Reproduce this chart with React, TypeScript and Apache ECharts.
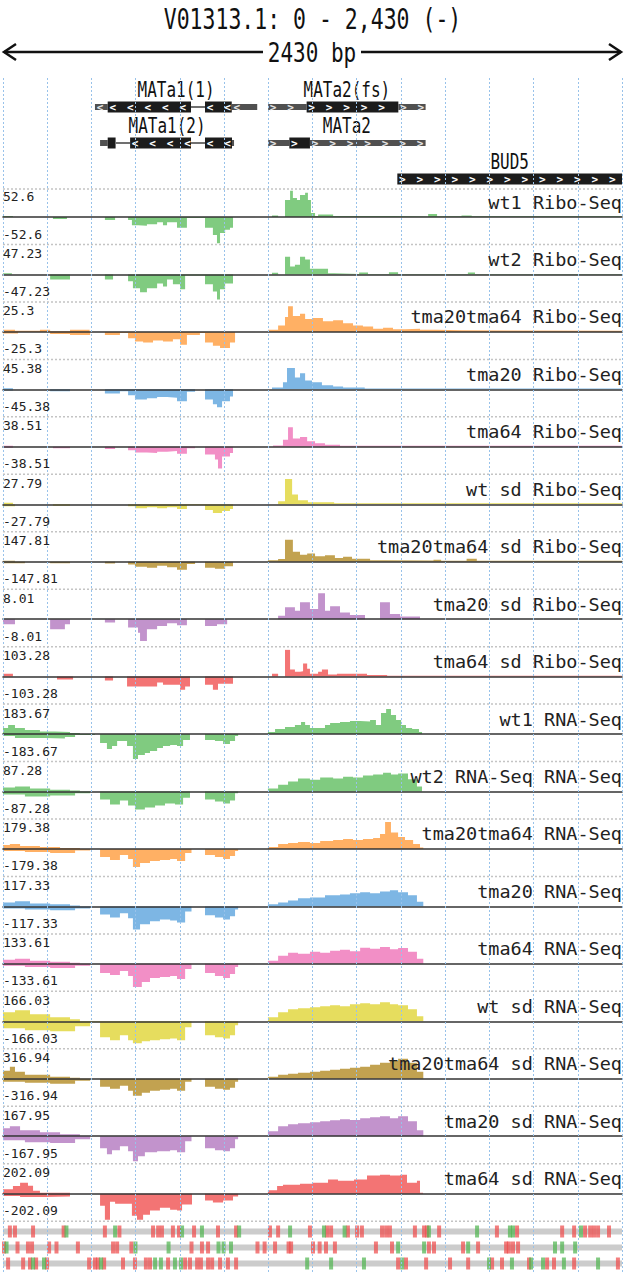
import { useEffect, useRef } from "react";
import * as echarts from "echarts";

const FONT = '"DejaVu Sans Mono", "Liberation Mono", monospace';
const GENOME_START = 0;
const GENOME_END = 2430;

const trackNames = [
  "wt1 Ribo-Seq", "wt2 Ribo-Seq", "tma20tma64 Ribo-Seq", "tma20 Ribo-Seq", "tma64 Ribo-Seq",
  "wt sd Ribo-Seq", "tma20tma64 sd Ribo-Seq", "tma20 sd Ribo-Seq", "tma64 sd Ribo-Seq",
  "wt1 RNA-Seq", "wt2 RNA-Seq RNA-Seq", "tma20tma64 RNA-Seq", "tma20 RNA-Seq", "tma64 RNA-Seq",
  "wt sd RNA-Seq", "tma20tma64 sd RNA-Seq", "tma20 sd RNA-Seq", "tma64 sd RNA-Seq",
];
const trackMax = [52.6, 47.23, 25.3, 45.38, 38.51, 27.79, 147.81, 8.01, 103.28, 183.67, 87.28, 179.38, 117.33, 133.61, 166.03, 316.94, 167.95, 202.09];
const GREEN = "#80cb80", ORANGE = "#ffb064", BLUE = "#7db6e4", PINK = "#f28fc6", YELLOW = "#e6dd5e", OLIVE = "#c2a250", PURPLE = "#c293cc", RED = "#f37474";
const trackColors = [GREEN, GREEN, ORANGE, BLUE, PINK, YELLOW, OLIVE, PURPLE, RED, GREEN, GREEN, ORANGE, BLUE, PINK, YELLOW, OLIVE, PURPLE, RED];

// coverage: [position (bp), value] breakpoints, value holds until next breakpoint
const wt1RiboPos = [[0,2],[39,0],[1056,3],[1080,0],[1107,33],[1127,51],[1138,37],[1154,33],[1166,43],[1186,47],[1197,33],[1209,8],[1225,2],[1237,5],[1296,2],[1531,1],[1669,6],[1704,1.5],[1800,3],[1840,1.5],[2430,0]];
const wt1RiboNeg = [[196,4],[251,0],[400,6],[440,0],[491,6],[506,16],[530,17],[565,14],[605,10],[628,16],[644,10],[683,21],[722,2],[793,21],[824,35],[840,51],[852,31],[872,25],[891,21],[903,0]];
const wt2RiboPos = [[0,2],[35,0],[1056,3],[1080,0],[1107,31],[1127,14],[1146,17],[1166,31],[1186,26],[1205,10],[1276,2],[1300,1],[1398,3.5],[1433,1],[1515,4],[1551,1],[1825,3.5],[1853,1],[2430,0]];
const wt2RiboNeg = [[185,9],[263,0],[400,9],[432,0],[491,12],[510,24],[538,31],[565,24],[605,16],[628,21],[644,9],[667,17],[695,26],[715,2],[793,17],[824,30],[840,44],[852,26],[872,16],[903,0]];
const dkRiboPos = [[0,2],[47,1],[145,2],[185,0.5],[263,2],[340,0],[1040,2],[1080,6],[1107,14],[1119,24],[1138,15],[1166,17],[1186,12],[1217,13],[1256,10],[1296,11],[1335,8],[1374,6],[1413,5],[1453,3],[1492,4],[1531,2.5],[1578,3],[1637,2],[1700,1.5],[1800,1],[2430,0]];
const dkRiboNeg = [[0,1.5],[59,0],[185,2],[263,3],[342,0],[400,3],[459,1],[491,6],[518,9],[550,10],[589,8],[628,9],[667,7],[695,12],[722,3],[773,1],[793,10],[824,13],[852,15],[891,10],[911,0]];
const tma20RiboPos = [[0,2],[39,0],[1056,3],[1099,12],[1115,36],[1146,20],[1166,27],[1186,15],[1213,12],[1252,7],[1296,5],[1335,3],[1420,1.5],[2430,0]];
const tma20RiboNeg = [[0,2],[39,0],[185,3],[263,0],[400,7],[459,3],[491,10],[518,17],[565,15],[605,13],[644,14],[683,20],[722,4],[754,0],[793,17],[824,25],[840,30],[860,20],[891,12],[903,0]];
const tma64RiboPos = [[0,1.5],[39,0],[1060,2],[1099,10],[1119,28],[1138,12],[1166,14],[1194,8],[1225,5],[1264,3],[1323,1.5],[2430,0]];
const tma64RiboNeg = [[0,1.5],[39,0],[196,2],[263,0],[400,3],[440,0],[491,5],[518,8],[565,9],[605,7],[644,6],[683,10],[722,2],[754,0],[793,11],[832,18],[844,31],[860,14],[891,9],[903,0]];
const wtSdRiboPos = [[0,1.5],[39,0],[1080,3],[1107,26],[1135,10],[1158,4],[1197,2],[1300,1],[2430,0]];
const wtSdRiboNeg = [[0,2],[47,0],[196,1.5],[263,0],[491,2],[518,4],[565,3],[605,4],[644,3],[683,5],[722,1],[793,6],[824,9],[860,7],[891,5],[903,0]];
const dkSdRiboPos = [[0,5],[47,0],[1040,8],[1080,15],[1107,120],[1138,55],[1166,38],[1194,45],[1225,30],[1264,35],[1303,20],[1335,27],[1370,16],[1441,8],[1500,6],[1690,11],[1720,5],[1820,16],[1860,5],[2430,0]];
const dkSdRiboNeg = [[0,8],[86,0],[185,8],[263,0],[400,10],[440,0],[491,16],[518,27],[565,33],[605,22],[644,30],[683,44],[722,12],[754,0],[793,33],[832,38],[872,25],[903,0]];
const tma20SdRiboPos = [[1080,1],[1107,3.5],[1146,2.5],[1166,5],[1205,3],[1237,7.7],[1264,2.5],[1284,3.8],[1323,2],[1362,1.2],[1421,0],[1480,5],[1519,1.5],[1559,0.8],[1637,0]];
const tma20SdRiboNeg = [[0,1.5],[47,0],[185,3],[243,1.5],[263,0],[400,1],[440,0],[491,2.5],[530,4],[538,6.5],[565,3],[605,2],[644,1.2],[683,1.8],[722,0],[793,2],[840,1.5],[880,0]];
const tma64SdRiboPos = [[0,11],[39,0],[1056,11],[1080,0],[1107,103],[1127,27],[1146,19],[1166,20],[1178,50],[1194,30],[1205,11],[1237,19],[1252,27],[1276,8],[1311,11],[1429,6],[1508,3],[2430,0]];
const tma64SdRiboNeg = [[212,11],[275,0],[400,15],[432,0],[487,38],[605,23],[628,31],[695,50],[715,38],[734,0],[793,31],[824,50],[844,27],[903,0]];
const wt1RnaPos = [[0,41],[20,61],[47,41],[86,27],[145,18],[204,14],[263,7],[302,0],[1040,14],[1068,34],[1107,48],[1146,61],[1170,82],[1186,61],[1205,41],[1264,61],[1284,75],[1323,82],[1362,88],[1402,86],[1441,95],[1464,61],[1484,143],[1504,170],[1523,129],[1543,95],[1563,61],[1582,41],[1606,34],[1633,14],[1645,0]];
const wt1RnaNeg = [[0,14],[47,27],[165,31],[243,20],[283,7],[361,0],[381,61],[408,102],[428,82],[448,48],[487,82],[510,170],[530,143],[557,129],[577,116],[605,95],[628,82],[656,75],[683,82],[707,41],[734,0],[793,41],[832,48],[864,68],[891,48],[911,14],[923,0]];
const wt2RnaPos = [[0,13],[47,16],[106,10],[185,6],[263,3],[302,0],[1040,10],[1080,22],[1119,32],[1158,42],[1205,38],[1245,45],[1296,42],[1335,48],[1374,45],[1413,52],[1453,55],[1492,61],[1523,55],[1551,58],[1590,40],[1625,16],[1645,0]];
const wt2RnaNeg = [[0,10],[86,16],[185,13],[283,6],[342,0],[381,26],[420,42],[459,29],[491,45],[518,58],[557,52],[597,45],[636,39],[675,42],[707,20],[734,0],[793,26],[832,32],[864,39],[891,29],[911,6],[923,0]];
const dkRnaPos = [[0,27],[27,33],[67,20],[145,13],[224,7],[302,0],[1040,13],[1080,33],[1119,40],[1158,47],[1205,40],[1245,53],[1296,60],[1335,66],[1374,60],[1413,66],[1453,73],[1480,100],[1500,179],[1523,110],[1551,80],[1578,60],[1610,33],[1637,10],[1650,0]];
const dkRnaNeg = [[0,13],[86,20],[185,27],[283,10],[342,0],[381,53],[420,73],[459,40],[491,66],[510,120],[538,93],[577,80],[616,73],[656,66],[683,80],[715,27],[740,0],[793,40],[832,53],[864,66],[891,47],[911,13],[923,0]];
const tma20RnaPos = [[0,17],[47,22],[106,13],[185,9],[263,4],[302,0],[1040,9],[1080,17],[1119,26],[1158,35],[1205,39],[1264,48],[1323,52],[1362,57],[1402,61],[1441,57],[1480,65],[1519,70],[1551,61],[1590,48],[1625,20],[1650,0]];
const tma20RnaNeg = [[0,9],[86,13],[185,17],[283,9],[342,0],[381,35],[420,48],[459,30],[491,52],[510,100],[538,78],[577,65],[616,57],[656,61],[683,70],[715,22],[740,0],[793,39],[832,48],[864,57],[891,43],[911,13],[923,0]];
const tma64RnaPos = [[0,20],[47,25],[106,15],[185,10],[263,5],[302,0],[1040,15],[1080,40],[1119,55],[1158,50],[1205,60],[1245,55],[1284,65],[1323,70],[1362,62],[1402,80],[1441,75],[1480,84],[1519,72],[1551,78],[1590,60],[1625,25],[1650,0]];
const tma64RnaNeg = [[0,10],[86,15],[185,20],[283,10],[342,0],[381,45],[420,55],[459,35],[491,60],[510,115],[545,90],[577,70],[616,65],[656,60],[683,75],[715,25],[740,0],[793,45],[832,60],[864,70],[891,50],[911,15],[923,0]];
const wtSdRnaPos = [[0,55],[47,68],[106,43],[185,25],[263,12],[302,0],[1040,25],[1080,55],[1119,74],[1158,80],[1205,86],[1245,92],[1284,98],[1323,92],[1362,105],[1402,111],[1441,105],[1480,117],[1519,105],[1551,98],[1590,74],[1625,31],[1650,0]];
const wtSdRnaNeg = [[0,43],[86,55],[185,61],[283,31],[342,6],[381,98],[420,117],[459,86],[491,117],[510,135],[545,123],[577,117],[616,111],[656,105],[683,117],[715,37],[740,0],[793,86],[832,98],[864,105],[891,86],[911,25],[923,0]];
const dkSdRnaPos = [[0,94],[27,141],[47,82],[86,47],[185,23],[263,12],[302,0],[1040,23],[1080,47],[1119,59],[1158,70],[1205,82],[1245,94],[1284,106],[1323,117],[1362,129],[1402,141],[1441,164],[1480,188],[1519,211],[1551,235],[1590,188],[1625,82],[1650,0]];
const dkSdRnaNeg = [[0,35],[86,47],[185,59],[283,23],[342,0],[381,94],[420,117],[459,82],[491,141],[510,200],[545,164],[577,141],[616,129],[656,117],[683,141],[715,35],[740,0],[793,94],[832,117],[864,129],[891,106],[911,35],[923,0]];
const tma20SdRnaPos = [[0,50],[27,62],[67,37],[145,25],[224,12],[302,0],[1040,31],[1080,62],[1119,75],[1158,80],[1205,87],[1245,93],[1284,99],[1323,106],[1362,100],[1402,112],[1441,118],[1480,124],[1519,112],[1551,124],[1590,93],[1625,37],[1650,0]];
const tma20SdRnaNeg = [[0,25],[86,37],[185,43],[283,19],[342,0],[381,75],[408,112],[428,87],[459,62],[491,93],[510,156],[530,124],[557,100],[605,93],[656,87],[683,100],[715,31],[740,0],[793,75],[832,87],[864,93],[891,75],[911,19],[923,0]];
const tma64SdRnaPos = [[0,32],[39,58],[67,82],[98,60],[118,22],[145,7],[263,0],[1040,25],[1076,58],[1099,67],[1166,75],[1217,82],[1276,105],[1315,97],[1378,105],[1429,135],[1480,142],[1519,135],[1559,142],[1586,82],[1625,97],[1637,7],[1649,0]];
const tma64SdRnaNeg = [[0,17],[67,25],[165,22],[263,0],[381,90],[400,195],[420,60],[440,75],[506,165],[526,195],[550,157],[577,127],[616,105],[656,120],[683,127],[703,82],[742,0],[793,52],[824,67],[864,52],[903,22],[923,0]];

const trackPos = [wt1RiboPos, wt2RiboPos, dkRiboPos, tma20RiboPos, tma64RiboPos, wtSdRiboPos, dkSdRiboPos, tma20SdRiboPos, tma64SdRiboPos, wt1RnaPos, wt2RnaPos, dkRnaPos, tma20RnaPos, tma64RnaPos, wtSdRnaPos, dkSdRnaPos, tma20SdRnaPos, tma64SdRnaPos];
const trackNeg = [wt1RiboNeg, wt2RiboNeg, dkRiboNeg, tma20RiboNeg, tma64RiboNeg, wtSdRiboNeg, dkSdRiboNeg, tma20SdRiboNeg, tma64SdRiboNeg, wt1RnaNeg, wt2RnaNeg, dkRnaNeg, tma20RnaNeg, tma64RnaNeg, wtSdRnaNeg, dkSdRnaNeg, tma20SdRnaNeg, tma64SdRnaNeg];

// genes: [start, end, row, kind(0 utr,1 cds,2 intron), strand]
const geneSegments = [
  [361,411,0,0,-1],[411,738,0,1,-1],[738,793,0,2,-1],[793,898,0,1,-1],[898,998,0,0,-1],
  [381,411,1,0,-1],[411,442,1,1,-1],[442,499,1,2,-1],[499,738,1,1,-1],[738,793,1,2,-1],[793,899,1,1,-1],[899,907,1,0,-1],
  [1041,1192,0,0,1],[1192,1552,0,1,1],[1552,1659,0,0,1],
  [1041,1124,1,0,1],[1124,1205,1,1,1],[1205,1659,1,0,1],
  [1548,2430,2,1,1],
];
const geneNames = ["MATa1(1)", "MATa1(2)", "MATa2(fs)", "MATa2", "BUD5"];
const geneSpans = [[361,998,0],[381,907,1],[1041,1659,0],[1041,1659,1],[1548,2430,2]];

// codons per frame (bp)
const frame1Stops = [27,47,118,238,400,457,589,609,624,667,691,750,844,915,1048,1080,1205,1272,1288,1354,1390,1409,1488,1504,1519,1617,1653,1665,1712,1939,2018,2195,2242,2285,2305,2320,2336,2379];
const frame1Starts = [249,440,703,781,927,1127,1260,1341,1672,1861,1990,2002,2269];
const frame2Stops = [4,57,98,114,181,210,294,432,448,504,740,781,805,999,1027,1068,1121,1131,1217,1243,1268,1303,1464,1527,1672,1692,1806,1865,1975,1986,2002,2022];
const frame2Starts = [14,520,650,846,866,895,1551,1653,1826,2167,2195,2246];
const frame3Stops = [20,79,106,130,173,338,361,373,397,471,518,561,577,648,715,734,762,777,805,821,852,883,915,1551,1582,1661,1755,1826,1920,1959,2065,2136,2163,2242,2414];
const frame3Starts = [118,161,385,597,620,675,699,1194,1288,1417,1567,1908,1998,2073,2120,2202,2336];

const W = 625, H = 1273, LEFT = 3, PLOT_W = 619;
const FIRST_ZERO = 217, PITCH = 57.45, HALF = 27;

function buildOption() {
  const grids: any[] = [];
  const xAxes: any[] = [];
  const yAxes: any[] = [];
  const series: any[] = [];
  const g: any[] = [];
  const hidden = { axisLine: { show: false }, axisTick: { show: false }, axisLabel: { show: false }, splitLine: { show: false } };

  // gene grid 0
  grids.push({ left: LEFT, width: PLOT_W, top: 80, height: 108 });
  xAxes.push({ type: "value", gridIndex: 0, min: GENOME_START, max: GENOME_END, ...hidden });
  yAxes.push({ type: "value", gridIndex: 0, min: -0.75, max: 2.25, inverse: true, ...hidden });
  series.push({
    type: "custom", xAxisIndex: 0, yAxisIndex: 0, clip: false, data: geneSegments,
    renderItem: (params: any, api: any) => {
      const s = api.value(0), e = api.value(1), row = api.value(2), kind = api.value(3), dir = api.value(4);
      const a = api.coord([s, row]); const b = api.coord([e, row]);
      const cy = a[1];
      const children: any[] = [];
      if (kind === 2) {
        children.push({ type: "line", shape: { x1: a[0], y1: cy, x2: b[0], y2: cy }, style: { stroke: "#707070", lineWidth: 2 } });
      } else {
        const h = kind === 1 ? 11 : 6;
        children.push({ type: "rect", shape: { x: a[0], y: cy - h / 2, width: b[0] - a[0], height: h }, style: { fill: kind === 1 ? "#1c1c1c" : "#505050" } });
        for (let x = a[0] + 5; x < b[0] - 3; x += 17.5) {
          children.push({ type: "text", x, y: cy, style: { text: dir < 0 ? "<" : ">", fill: kind === 1 ? "#ffffff" : "#e4e4e4", font: "bold 11px " + FONT, align: "center", verticalAlign: "middle", textAlign: "center", textVerticalAlign: "middle" } });
        }
      }
      return { type: "group", children };
    },
  });
  series.push({
    type: "custom", xAxisIndex: 0, yAxisIndex: 0, clip: false, data: geneSpans,
    renderItem: (params: any, api: any) => {
      const a = api.coord([(api.value(0) + api.value(1)) / 2, api.value(2)]);
      return { type: "text", x: a[0], y: a[1] - 17.5, scaleY: 1.3, style: { text: geneNames[params.dataIndex], fill: "#111", font: "16px " + FONT, align: "center", verticalAlign: "middle", textAlign: "center", textVerticalAlign: "middle" } };
    },
  });

  // tracks
  g.push({ type: "line", z: 50, shape: { x1: LEFT, y1: FIRST_ZERO - 28, x2: LEFT + PLOT_W, y2: FIRST_ZERO - 28 }, style: { stroke: "#c4c4c4", lineWidth: 1.5, lineDash: [2, 2] } });
  trackNames.forEach((name, i) => {
    const gi = i + 1;
    const zero = FIRST_ZERO + i * PITCH;
    const m = trackMax[i];
    grids.push({ left: LEFT, width: PLOT_W, top: zero - HALF, height: HALF * 2 });
    xAxes.push({ type: "value", gridIndex: gi, min: GENOME_START, max: GENOME_END, z: 5, axisLine: { show: true, onZero: true, lineStyle: { color: "#333", width: 1.6 } }, axisTick: { show: false }, axisLabel: { show: false }, splitLine: { show: false } });
    yAxes.push({ type: "value", gridIndex: gi, min: -m, max: m, ...hidden });
    const common = { type: "line", xAxisIndex: gi, yAxisIndex: gi, step: "end", symbol: "none", lineStyle: { width: 0 }, areaStyle: { color: trackColors[i], opacity: 1, origin: "auto" }, silent: true };
    series.push({ ...common, data: trackPos[i] });
    series.push({ ...common, data: trackNeg[i].map((p) => [p[0], -p[1]]) });
    g.push({ type: "text", z: 100, x: LEFT, y: zero - 21, style: { text: String(m), font: "13px " + FONT, fill: "#222", align: "left", verticalAlign: "middle", textAlign: "left", textVerticalAlign: "middle" } });
    g.push({ type: "text", z: 100, x: LEFT, y: zero + 17, style: { text: "-" + String(m), font: "13px " + FONT, fill: "#222", align: "left", verticalAlign: "middle", textAlign: "left", textVerticalAlign: "middle" } });
    g.push({ type: "text", z: 100, x: LEFT + PLOT_W, y: zero - 15, style: { text: name, font: "18.5px " + FONT, fill: "#222", align: "right", verticalAlign: "middle", textAlign: "right", textVerticalAlign: "middle" } });
    g.push({ type: "line", z: 50, shape: { x1: LEFT, y1: zero + 27.5, x2: LEFT + PLOT_W, y2: zero + 27.5 }, style: { stroke: "#c4c4c4", lineWidth: 1.5, lineDash: [2, 2] } });
  });

  // codon grid
  const cg = trackNames.length + 1;
  grids.push({ left: LEFT, width: PLOT_W, top: 1223.5, height: 48 });
  xAxes.push({ type: "value", gridIndex: cg, min: GENOME_START, max: GENOME_END, ...hidden });
  yAxes.push({ type: "value", gridIndex: cg, min: -0.5, max: 2.5, inverse: true, ...hidden });
  series.push({
    type: "custom", xAxisIndex: cg, yAxisIndex: cg, clip: false, data: [[GENOME_START, GENOME_END, 0], [GENOME_START, GENOME_END, 1], [GENOME_START, GENOME_END, 2]],
    renderItem: (params: any, api: any) => {
      const a = api.coord([api.value(0), api.value(2)]); const b = api.coord([api.value(1), api.value(2)]);
      return { type: "rect", shape: { x: a[0], y: a[1] - 3, width: b[0] - a[0], height: 6 }, style: { fill: "#cccccc" } };
    },
  });
  const codons: number[][] = [];
  [[frame1Stops, frame1Starts], [frame2Stops, frame2Starts], [frame3Stops, frame3Starts]].forEach(([stops, starts], f) => {
    stops.forEach((p) => codons.push([p, f, 0]));
    starts.forEach((p) => codons.push([p, f, 1]));
  });
  series.push({
    type: "custom", xAxisIndex: cg, yAxisIndex: cg, clip: false, data: codons,
    renderItem: (params: any, api: any) => {
      const p = api.coord([api.value(0), api.value(1)]);
      return { type: "rect", shape: { x: p[0] - 2, y: p[1] - 6, width: 4, height: 12 }, style: { fill: api.value(2) === 1 ? "rgba(80,180,80,0.72)" : "rgba(238,76,76,0.72)" } };
    },
  });

  // overlay grid with vertical dotted lines
  const og = cg + 1;
  grids.push({ left: LEFT, width: PLOT_W, top: 78, height: H - 78 });
  xAxes.push({ type: "value", gridIndex: og, min: GENOME_START, max: GENOME_END, interval: GENOME_END / 14, z: 20, axisLine: { show: false }, axisTick: { show: false }, axisLabel: { show: false }, splitLine: { show: true, lineStyle: { color: "#98c2ea", width: 1, type: [2, 2] } } });
  yAxes.push({ type: "value", gridIndex: og, min: 0, max: 1, ...hidden });

  // title & scale arrow
  g.push({ type: "text", z: 100, x: W / 2, y: 19, scaleY: 1.3, style: { text: "V01313.1: 0 - 2,430 (-)", font: "21.5px " + FONT, fill: "#111", align: "center", verticalAlign: "middle", textAlign: "center", textVerticalAlign: "middle" } });
  g.push({ type: "text", z: 100, x: 312, y: 52, scaleY: 1.3, style: { text: "2430 bp", font: "21px " + FONT, fill: "#111", align: "center", verticalAlign: "middle", textAlign: "center", textVerticalAlign: "middle" } });
  g.push({ type: "line", z: 100, shape: { x1: 4, y1: 52, x2: 263, y2: 52 }, style: { stroke: "#111", lineWidth: 2.5 } });
  g.push({ type: "line", z: 100, shape: { x1: 361, y1: 52, x2: 621, y2: 52 }, style: { stroke: "#111", lineWidth: 2.5 } });
  g.push({ type: "polyline", z: 100, shape: { points: [[16, 44], [4, 52], [16, 60]] }, style: { stroke: "#111", lineWidth: 2.5, fill: "none" } });
  g.push({ type: "polyline", z: 100, shape: { points: [[609, 44], [621, 52], [609, 60]] }, style: { stroke: "#111", lineWidth: 2.5, fill: "none" } });

  return { animation: false, backgroundColor: "#ffffff", grid: grids, xAxis: xAxes, yAxis: yAxes, series, graphic: { elements: g } };
}

export default function App() {
  const ref = useRef<HTMLDivElement>(null);
  useEffect(() => {
    document.body.style.margin = "0";
    const chart = echarts.init(ref.current as HTMLDivElement, undefined, { renderer: "svg" });
    chart.setOption(buildOption() as any);
    return () => chart.dispose();
  }, []);
  return <div ref={ref} style={{ width: W, height: H }} />;
}
